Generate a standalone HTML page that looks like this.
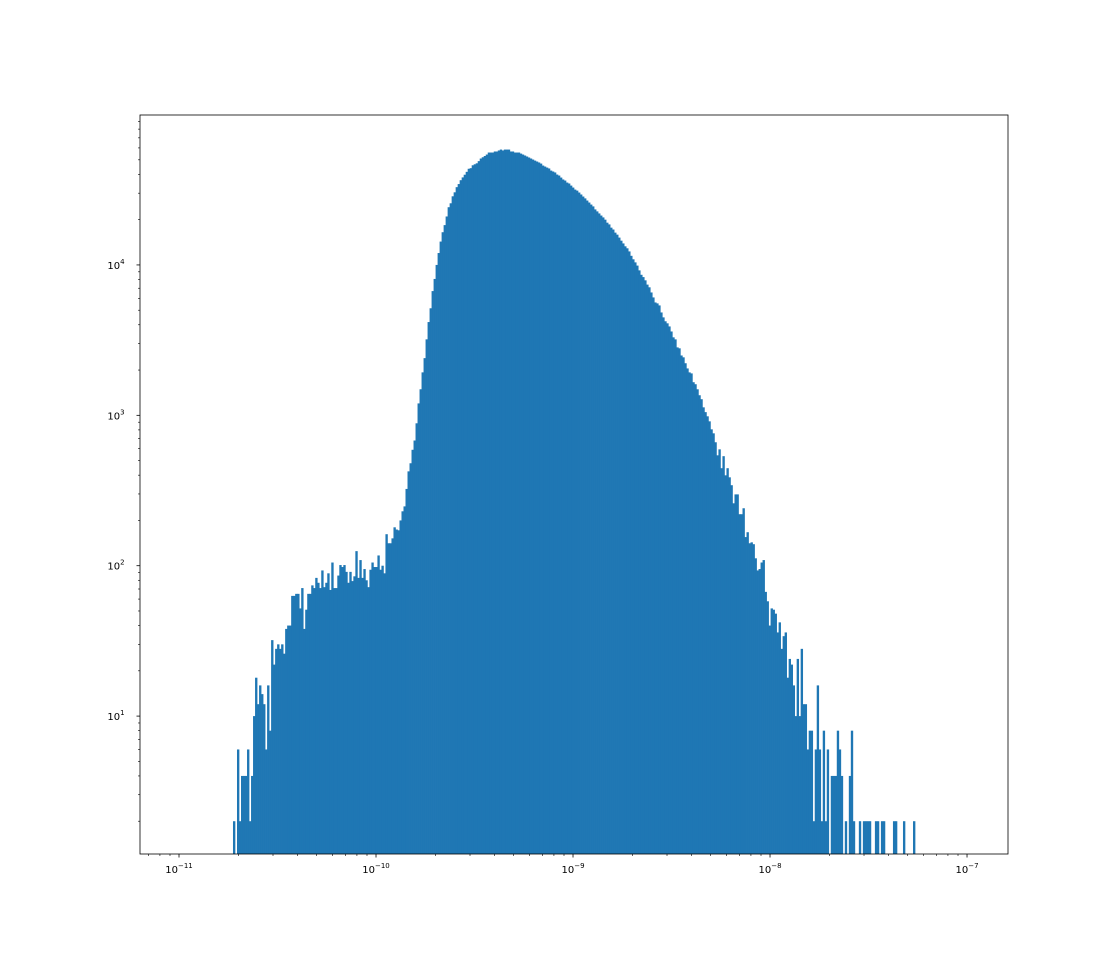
<!DOCTYPE html>
<html><head><meta charset="utf-8"><style>
html,body{margin:0;padding:0;background:#fff;}
svg{display:block;font-family:"DejaVu Sans","Liberation Sans",sans-serif;}
</style></head><body>
<svg id="chart" width="1120" height="960" viewBox="0 0 1120 960" xmlns="http://www.w3.org/2000/svg">
<rect x="0" y="0" width="1120" height="960" fill="#fff"/>
<g id="bars"></g>
<g id="axes"></g>
</svg>
<script>
// Histogram data: log10 of first bin edge, log10 bin width, counts per bin
const binStartLog = -10.726;
const binEndLog = -7.264;
const counts = [
2,0,6,2,4,4,4,6,2,4,10,18,12,16,14,12,6,16,8,32,22,28,30,28,30,26,38,40,40,63,63,65,65,52,71,38,51,65,65,74,71,83,77,71,93,72,77,89,69,105,71,71,86,101,98,101,91,77,91,79,85,125,83,109,83,95,80,72,94,105,98,98,117,94,100,89,
162,141,141,152,180,174,172,200,230,248,324,424,480,590,680,885,1200,1490,1930,2400,3200,4170,5150,6700,8070,10000,12000,14300,16500,18400,21000,24200,25700,28600,30400,32900,34500,36600,38200,39800,41600,43600,44000,46000,46700,47400,49000,51000,52000,53000,
54200,55900,55900,55900,56800,56800,57700,58500,57700,58500,58500,58500,56800,56800,55900,55900,55900,55000,54200,53400,52600,51800,51000,50200,49400,48700,48000,47200,45800,45100,44400,43800,42400,41800,41200,39900,39300,38100,37000,36400,35300,34800,33700,32700,31700,31200,30300,29400,28500,27700,26800,26000,25200,24500,23400,22700,22000,21300,20700,20000,19100,18600,17700,17200,16400,15900,15200,14500,13900,13300,12900,12300,11500,10900,10400,9900,9200,8600,8300,7900,7400,7100,
6560,6080,5630,5550,5380,4830,4480,4220,4090,3900,3610,3300,3200,2830,2790,2500,2430,2220,2050,1930,1900,1660,1610,1490,1360,1280,1130,1050,985,912,807,759,662,542,594,445,535,399,445,387,343,260,298,298,220,220,241,
155,167,141,143,139,112,93,95,105,109,67,58,40,52,51,48,36,42,28,34,36,18,24,22,16,10,24,10,28,12,12,6,8,8,2,6,16,6,2,8,2,6,0,4,4,4,8,6,4,0,2,0,4,8,2,0,0,2,0,2,2,2,2,0,0,2,2,0,2,2,0,0,0,0,2,2,0,0,0,2,0,0,0,0,2
];
const xTickExps = [-11,-10,-9,-8,-7];
const yTickExps = [1,2,3,4];

const NS = "http://www.w3.org/2000/svg";
const L = 140, R = 1008, T = 115, B = 854;
const xMinLog = -11.198, xMaxLog = -6.792;
const yMinLog = 0.083, yMaxLog = 4.997;
function xs(lg){ return L + (lg - xMinLog) / (xMaxLog - xMinLog) * (R - L); }
function ys(lg){ return B - (lg - yMinLog) / (yMaxLog - yMinLog) * (B - T); }
function mk(tag, attrs, parent){
  const e = document.createElementNS(NS, tag);
  for (const k in attrs) e.setAttribute(k, attrs[k]);
  parent.appendChild(e); return e;
}
const barsG = document.getElementById('bars');
const axG = document.getElementById('axes');
const bw = (binEndLog - binStartLog) / counts.length;
counts.forEach((c, i) => {
  if (c <= 0) return;
  const x0 = xs(binStartLog + i * bw), x1 = xs(binStartLog + (i + 1) * bw);
  const y0 = Math.max(T, ys(Math.log10(c)));
  const r = mk('rect', {x: x0, y: y0, width: (x1 - x0) + 0.35, height: Math.max(0, B - y0), fill: '#1f77b4'}, barsG);
  
  
});
// frame
const frame = mk('rect', {x: L, y: T, width: R - L, height: B - T, fill: 'none', stroke: '#000', 'stroke-width': 0.8}, axG);


// x ticks
for (let e = -12; e <= -6; e++) {
  for (let m = 1; m <= 9; m++) {
    const lg = e + Math.log10(m);
    if (lg < xMinLog || lg > xMaxLog) continue;
    const x = xs(lg);
    const major = m === 1;
    const t = mk('line', {x1: x, x2: x, y1: B, y2: B + (major ? 3.5 : 2), stroke: '#000', 'stroke-width': major ? 0.8 : 0.6}, axG);
    
    
  }
}
xTickExps.forEach(e => {
  const x = xs(e);
  const tx = mk('text', {x: x, y: B + 19, 'text-anchor': 'middle', 'font-size': 10, fill: '#000'}, axG);
  
  
  tx.appendChild(document.createTextNode('10'));
  const sp = mk('tspan', {dy: -5, 'font-size': 7}, tx);
  sp.textContent = '\u2212' + Math.abs(e);
});
// y ticks
for (let e = 0; e <= 5; e++) {
  for (let m = 1; m <= 9; m++) {
    const lg = e + Math.log10(m);
    if (lg < yMinLog || lg > yMaxLog) continue;
    const y = ys(lg);
    const major = m === 1;
    const t = mk('line', {x1: L - (major ? 3.5 : 2), x2: L, y1: y, y2: y, stroke: '#000', 'stroke-width': major ? 0.8 : 0.6}, axG);
    
    
  }
}
yTickExps.forEach(e => {
  const y = ys(e);
  const tx = mk('text', {x: L - 24, y: y + 4, 'text-anchor': 'middle', 'font-size': 10, fill: '#000'}, axG);
  
  
  tx.appendChild(document.createTextNode('10'));
  const sp = mk('tspan', {dy: -5, 'font-size': 7}, tx);
  sp.textContent = String(e);
});
</script>
</body></html>
